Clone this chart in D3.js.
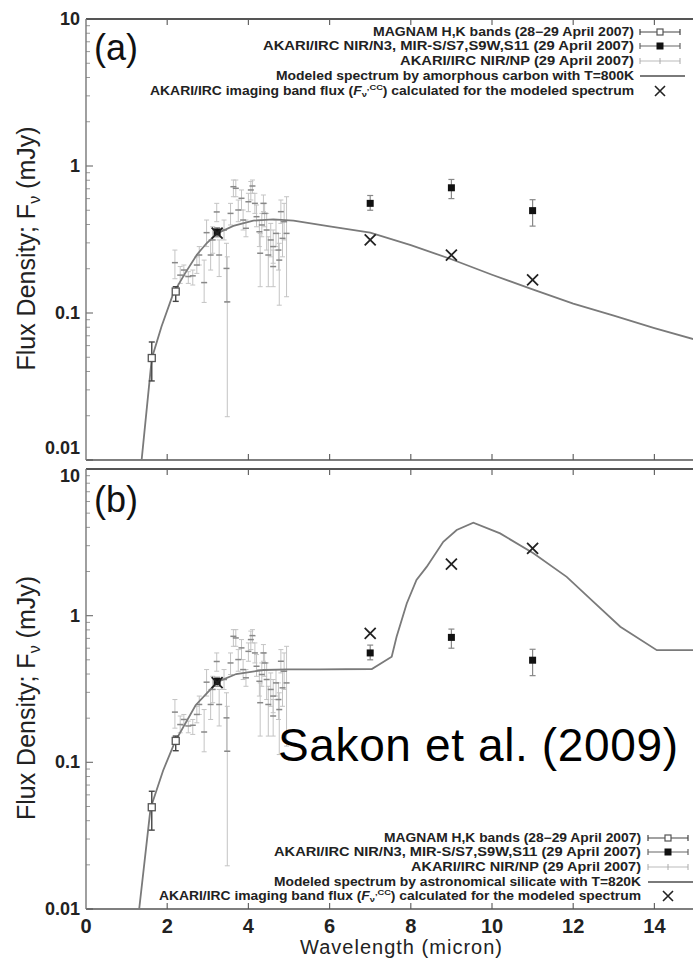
<!DOCTYPE html>
<html><head><meta charset="utf-8">
<script src="https://cdn.jsdelivr.net/npm/d3@7"></script>
<style>body{margin:0;background:#fff}svg{display:block}</style>
</head><body>
<svg id="c" width="693" height="958"></svg>
<script>
// ---- data ----
const xTicks = [0, 2, 4, 6, 8, 10, 12, 14];
const yTicks = [0.01, 0.1, 1, 10];
const yTickLabels = ["0.01", "0.1", "1", "10"];
const panelLabels = ["(a)", "(b)"];

// MAGNAM H,K
const magLam = [1.62, 2.21];
const magFlux = [0.0494, 0.140];
const magLo = [0.0345, 0.120];
const magHi = [0.0635, 0.151];

// AKARI/IRC N3, S7, S9W, S11
const irLam = [3.23, 7.0, 9.0, 11.0];
const irFlux = [0.356, 0.557, 0.711, 0.497];
const irLo = [0.33, 0.50, 0.60, 0.39];
const irHi = [0.38, 0.63, 0.81, 0.59];

// AKARI/IRC NIR/NP spectrum
const npLam = [2.19,2.32,2.41,2.52,2.63,2.73,2.79,2.91,2.97,3.07,3.12,3.22,3.28,3.40,3.46,3.48,3.56,3.63,3.69,3.75,3.83,3.87,3.94,4.00,4.06,4.10,4.16,4.20,4.27,4.29,4.33,4.37,4.40,4.45,4.49,4.55,4.61,4.61,4.68,4.74,4.76,4.80,4.84,4.88,4.94];
const npFlux = [0.220,0.181,0.196,0.177,0.179,0.212,0.248,0.161,0.352,0.248,0.314,0.487,0.248,0.367,0.201,0.119,0.476,0.723,0.705,0.502,0.603,0.429,0.377,0.571,0.687,0.731,0.557,0.452,0.357,0.255,0.397,0.557,0.476,0.367,0.248,0.314,0.283,0.207,0.348,0.268,0.229,0.489,0.322,0.418,0.348];
const npLo = [0.171,0.159,0.179,0.159,0.155,0.186,0.212,0.118,0.283,0.196,0.255,0.418,0.177,0.314,0.119,0.0197,0.397,0.618,0.618,0.418,0.502,0.367,0.330,0.489,0.587,0.652,0.476,0.386,0.283,0.151,0.330,0.489,0.386,0.268,0.151,0.241,0.218,0.151,0.283,0.196,0.113,0.407,0.241,0.314,0.129];
const npHi = [0.268,0.207,0.212,0.191,0.196,0.241,0.283,0.229,0.429,0.314,0.386,0.557,0.314,0.429,0.298,0.241,0.557,0.803,0.803,0.587,0.687,0.502,0.429,0.652,0.785,0.803,0.652,0.543,0.429,0.348,0.476,0.635,0.557,0.476,0.330,0.407,0.367,0.268,0.429,0.348,0.298,0.587,0.418,0.557,0.618];

// model band fluxes (X)
const xbLam = [3.23, 7.0, 9.0, 11.0];
const xbFluxA = [0.35, 0.314, 0.248, 0.168];
const xbFluxB = [0.35, 0.757, 2.25, 2.88];

// model spectra
const carbonLam = [1.37,1.62,1.86,2.15,2.44,2.73,2.97,3.23,3.63,4.12,4.61,5.11,6.0,7.0,8.0,9.0,10.0,11.0,12.0,13.0,14.0,15.0];
const carbonFlux = [0.01,0.049,0.081,0.136,0.186,0.249,0.298,0.348,0.391,0.425,0.434,0.425,0.388,0.352,0.29,0.232,0.182,0.145,0.116,0.096,0.079,0.066];
const silLam = [1.31,1.59,1.9,2.19,2.7,3.24,3.7,4.37,5.0,5.76,7.04,7.53,7.65,7.9,8.14,8.39,8.8,9.13,9.54,10.2,11.02,11.84,12.5,13.16,14.06,15.0];
const silFlux = [0.01,0.0486,0.088,0.138,0.245,0.354,0.40,0.426,0.43,0.43,0.433,0.525,0.718,1.21,1.75,2.15,3.19,3.84,4.30,3.64,2.66,1.84,1.24,0.84,0.582,0.582];

const legendA = ["MAGNAM H,K bands (28\u221229 April 2007)","AKARI/IRC NIR/N3, MIR-S/S7,S9W,S11 (29 April 2007)","AKARI/IRC NIR/NP (29 April 2007)","Modeled spectrum by amorphous carbon with T=800K","AKARI/IRC imaging band flux"];
const legendB = ["MAGNAM H,K bands (28\u221229 April 2007)","AKARI/IRC NIR/N3, MIR-S/S7,S9W,S11 (29 April 2007)","AKARI/IRC NIR/NP (29 April 2007)","Modeled spectrum by astronomical silicate with T=820K","AKARI/IRC imaging band flux"];

// ---- drawing ----
const svg = d3.select("#c");
const FONT = "'Liberation Sans', Arial, sans-serif";
const x = d3.scaleLinear().domain([0, 15]).range([86, 86 + 15 * 40.6]);

const panels = [
  {top: 19, bottom: 460, model: [carbonLam, carbonFlux], xb: xbFluxA, legend: legendA,
   legRows: [32, 46, 61, 76, 91], legStart: [373, 263, 400, 276, 150], legEnd: 634, symX: 660, lab: panelLabels[0], labY: 60,
   labShift: {"0.01": -6, "10": 6}},
  {top: 469, bottom: 909, model: [silLam, silFlux], xb: xbFluxB, legend: legendB,
   legRows: [838, 852, 867, 882, 896], legStart: [384, 274, 411, 274, 159], legEnd: 641, symX: 668, lab: panelLabels[1], labY: 512,
   labShift: {"0.01": 6, "10": 13}}
];

panels.forEach((P, pi) => {
  const y = d3.scaleLog().domain([0.01, 10]).range([P.bottom, P.top]);
  const g = svg.append("g");
  const cid = "clip" + pi;
  svg.append("clipPath").attr("id", cid).append("rect")
    .attr("x", 86).attr("y", P.top).attr("width", 693 - 86).attr("height", P.bottom - P.top);

  // y minor ticks
  const minor = [];
  for (let d = 0.01; d < 10; d *= 10) for (let k = 2; k <= 9; k++) minor.push(d * k);
  g.selectAll(".ymin").data(minor).enter().append("line")
    .attr("x1", 86).attr("x2", 90).attr("y1", d => y(d)).attr("y2", d => y(d))
    .attr("stroke", "#999").attr("stroke-width", 1);
  g.selectAll(".ymaj").data(yTicks).enter().append("line")
    .attr("x1", 86).attr("x2", 93).attr("y1", d => y(d)).attr("y2", d => y(d))
    .attr("stroke", "#777").attr("stroke-width", 1.2);
  g.selectAll(".ylab").data(yTicks).enter().append("text")
    .attr("x", 80).attr("y", (d, i) => y(d) + (P.labShift[yTickLabels[i]] !== undefined ? P.labShift[yTickLabels[i]] : 6))
    .attr("text-anchor", "end")
    .attr("font-family", FONT).attr("font-weight", "bold").attr("font-size", 18)
    .attr("fill", "#222").text((d, i) => yTickLabels[i]);

  // x ticks top & bottom (inward)
  const xt = xTicks.filter(d => d > 0);
  g.selectAll(".xtt").data(xt).enter().append("line")
    .attr("x1", d => x(d)).attr("x2", d => x(d)).attr("y1", P.top).attr("y2", P.top + 6)
    .attr("stroke", "#666").attr("stroke-width", 1.2);
  g.selectAll(".xtb").data(xt).enter().append("line")
    .attr("x1", d => x(d)).attr("x2", d => x(d)).attr("y1", P.bottom).attr("y2", P.bottom - 6)
    .attr("stroke", "#666").attr("stroke-width", 1.2);

  // frame
  g.append("line").attr("x1", 86).attr("x2", 693).attr("y1", P.top).attr("y2", P.top)
    .attr("stroke", "#555").attr("stroke-width", 2);
  g.append("line").attr("x1", 86).attr("x2", 693).attr("y1", P.bottom).attr("y2", P.bottom)
    .attr("stroke", "#555").attr("stroke-width", 1.6);
  g.append("line").attr("x1", 86).attr("x2", 86).attr("y1", P.top).attr("y2", P.bottom)
    .attr("stroke", "#777").attr("stroke-width", 1.4);

  const d = g.append("g").attr("clip-path", `url(#${cid})`);

  // NP spectrum
  const np = npLam.map((l, i) => ({l, f: npFlux[i], lo: npLo[i], hi: npHi[i]}));
  d.selectAll(".npe").data(np).enter().append("line")
    .attr("x1", p => x(p.l)).attr("x2", p => x(p.l)).attr("y1", p => y(p.lo)).attr("y2", p => y(p.hi))
    .attr("stroke", "#c4c4c4").attr("stroke-width", 1);
  d.selectAll(".npc1").data(np).enter().append("line")
    .attr("x1", p => x(p.l) - 2.5).attr("x2", p => x(p.l) + 2.5).attr("y1", p => y(p.lo)).attr("y2", p => y(p.lo))
    .attr("stroke", "#c4c4c4").attr("stroke-width", 1);
  d.selectAll(".npc2").data(np).enter().append("line")
    .attr("x1", p => x(p.l) - 2.5).attr("x2", p => x(p.l) + 2.5).attr("y1", p => y(p.hi)).attr("y2", p => y(p.hi))
    .attr("stroke", "#c4c4c4").attr("stroke-width", 1);
  d.selectAll(".npp").data(np).enter().append("line")
    .attr("x1", p => x(p.l) - 3).attr("x2", p => x(p.l) + 3).attr("y1", p => y(p.f)).attr("y2", p => y(p.f))
    .attr("stroke", "#888").attr("stroke-width", 1.5);

  // model curve
  const mpts = P.model[0].map((l, i) => [l, P.model[1][i]]);
  d.append("path").datum(mpts)
    .attr("d", d3.line().x(p => x(p[0])).y(p => y(p[1])))
    .attr("fill", "none").attr("stroke", "#7a7a7a").attr("stroke-width", 1.8);

  // MAGNAM
  const mg = magLam.map((l, i) => ({l, f: magFlux[i], lo: magLo[i], hi: magHi[i]}));
  mg.forEach(p => {
    d.append("line").attr("x1", x(p.l)).attr("x2", x(p.l)).attr("y1", y(p.lo)).attr("y2", y(p.hi))
      .attr("stroke", "#444").attr("stroke-width", 1.4);
    [p.lo, p.hi].forEach(v => d.append("line").attr("x1", x(p.l) - 3).attr("x2", x(p.l) + 3)
      .attr("y1", y(v)).attr("y2", y(v)).attr("stroke", "#444").attr("stroke-width", 1.4));
    d.append("rect").attr("x", x(p.l) - 3.5).attr("y", y(p.f) - 3.5).attr("width", 7).attr("height", 7)
      .attr("fill", "#fff").attr("stroke", "#555").attr("stroke-width", 1.3);
  });

  // AKARI imaging
  const ir = irLam.map((l, i) => ({l, f: irFlux[i], lo: irLo[i], hi: irHi[i]}));
  ir.forEach(p => {
    d.append("line").attr("x1", x(p.l)).attr("x2", x(p.l)).attr("y1", y(p.lo)).attr("y2", y(p.hi))
      .attr("stroke", "#888").attr("stroke-width", 1.2);
    [p.lo, p.hi].forEach(v => d.append("line").attr("x1", x(p.l) - 3).attr("x2", x(p.l) + 3)
      .attr("y1", y(v)).attr("y2", y(v)).attr("stroke", "#888").attr("stroke-width", 1.2));
    d.append("rect").attr("x", x(p.l) - 3.5).attr("y", y(p.f) - 3.5).attr("width", 7).attr("height", 7)
      .attr("fill", "#111");
  });

  // X marks
  xbLam.forEach((l, i) => {
    const cx = x(l), cy = y(P.xb[i]), s = 5.5;
    d.append("path").attr("d", `M${cx - s},${cy - s}L${cx + s},${cy + s}M${cx - s},${cy + s}L${cx + s},${cy - s}`)
      .attr("stroke", "#222").attr("stroke-width", 1.8).attr("fill", "none");
  });

  // panel label
  svg.append("text").attr("x", 94).attr("y", P.labY).attr("font-family", FONT)
    .attr("font-size", 36).attr("fill", "#111").text(P.lab);

  // y-axis title
  const yc = (P.top + P.bottom) / 2 + 9;
  const yt = svg.append("text").attr("transform", `translate(35,${yc}) rotate(-90)`)
    .attr("text-anchor", "middle").attr("font-family", FONT).attr("font-size", 25).attr("fill", "#222");
  yt.append("tspan").text("Flux Density; F");
  yt.append("tspan").attr("font-size", 16).attr("dy", 5).text("\u03bd");
  yt.append("tspan").attr("dy", -5).text(" (mJy)");

  // legend
  const L = svg.append("g");
  P.legend.forEach((t, i) => {
    const yy = P.legRows[i];
    const tx = L.append("text").attr("x", P.legStart[i]).attr("y", yy + 4)
      .attr("font-family", FONT).attr("font-weight", "bold").attr("font-size", 12).attr("fill", "#222")
      .attr("textLength", P.legEnd - P.legStart[i]).attr("lengthAdjust", "spacingAndGlyphs");
    if (i < 4) tx.text(t);
    else {
      tx.append("tspan").text(t + " (");
      tx.append("tspan").attr("font-style", "italic").text("F");
      tx.append("tspan").attr("font-size", 8).attr("dy", 2).text("\u03bd");
      tx.append("tspan").attr("font-size", 8).attr("dy", -7).text(",CC");
      tx.append("tspan").attr("dy", 5).text(") calculated for the modeled spectrum");
    }
  });
  const sx = P.symX, r = P.legRows;
  // row 1: MAGNAM
  L.append("line").attr("x1", sx - 20).attr("x2", sx + 20).attr("y1", r[0]).attr("y2", r[0]).attr("stroke", "#444").attr("stroke-width", 1.2);
  [sx - 20, sx + 20].forEach(v => L.append("line").attr("x1", v).attr("x2", v).attr("y1", r[0] - 3).attr("y2", r[0] + 3).attr("stroke", "#444").attr("stroke-width", 1.2));
  L.append("rect").attr("x", sx - 3).attr("y", r[0] - 3).attr("width", 6).attr("height", 6).attr("fill", "#fff").attr("stroke", "#555").attr("stroke-width", 1.2);
  // row 2
  L.append("line").attr("x1", sx - 20).attr("x2", sx + 20).attr("y1", r[1]).attr("y2", r[1]).attr("stroke", "#666").attr("stroke-width", 1.2);
  [sx - 20, sx + 20].forEach(v => L.append("line").attr("x1", v).attr("x2", v).attr("y1", r[1] - 3).attr("y2", r[1] + 3).attr("stroke", "#666").attr("stroke-width", 1.2));
  L.append("rect").attr("x", sx - 3.5).attr("y", r[1] - 3.5).attr("width", 7).attr("height", 7).attr("fill", "#111");
  // row 3
  L.append("line").attr("x1", sx - 20).attr("x2", sx + 20).attr("y1", r[2]).attr("y2", r[2]).attr("stroke", "#bbb").attr("stroke-width", 1);
  [sx - 20, sx, sx + 20].forEach(v => L.append("line").attr("x1", v).attr("x2", v).attr("y1", r[2] - 3).attr("y2", r[2] + 3).attr("stroke", "#aaa").attr("stroke-width", 1));
  // row 4
  L.append("line").attr("x1", sx - 20).attr("x2", sx + 25).attr("y1", r[3]).attr("y2", r[3]).attr("stroke", "#7a7a7a").attr("stroke-width", 1.8);
  // row 5
  const s = 5;
  L.append("path").attr("d", `M${sx - s},${r[4] - s}L${sx + s},${r[4] + s}M${sx - s},${r[4] + s}L${sx + s},${r[4] - s}`)
    .attr("stroke", "#222").attr("stroke-width", 1.6);
});

// x-axis tick labels (bottom panel)
const yb0 = 909;
svg.selectAll(".xl").data(xTicks).enter().append("text")
  .attr("x", d => x(d)).attr("y", yb0 + 24).attr("text-anchor", "middle")
  .attr("font-family", FONT).attr("font-weight", "bold").attr("font-size", 20).attr("fill", "#222").text(d => d);
svg.append("text").attr("x", 401).attr("y", 954).attr("text-anchor", "middle")
  .attr("font-family", FONT).attr("font-size", 20).attr("fill", "#222").attr("textLength", 202)
  .text("Wavelength (micron)");

// citation
svg.append("text").attr("x", 278).attr("y", 761).attr("font-family", FONT)
  .attr("font-size", 46).attr("fill", "#000").attr("textLength", 400).text("Sakon et al. (2009)");
</script>
</body></html>
